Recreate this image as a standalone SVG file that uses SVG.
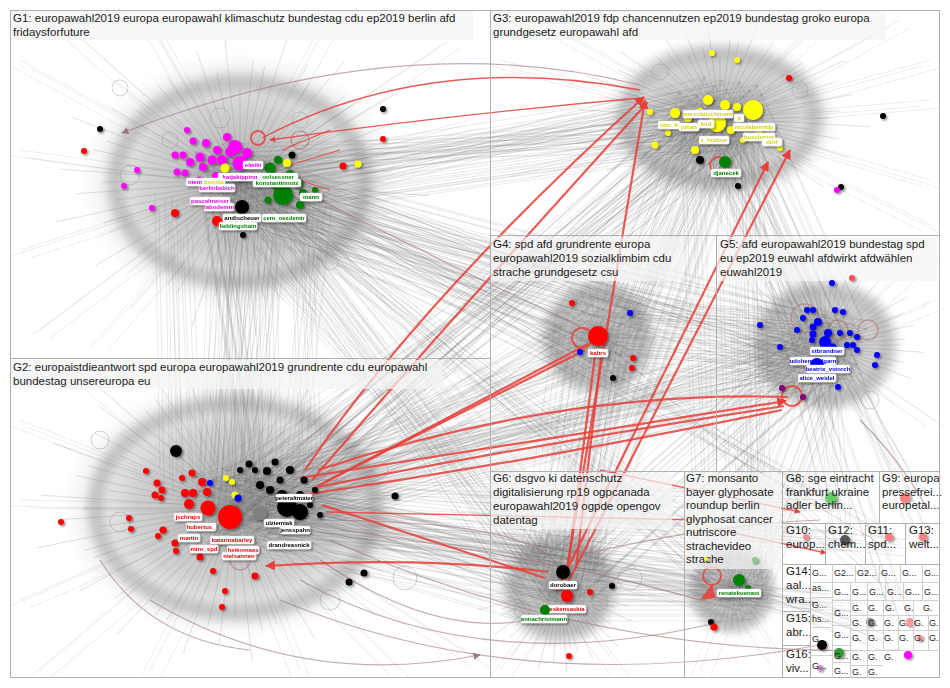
<svg xmlns="http://www.w3.org/2000/svg" xmlns:xlink="http://www.w3.org/1999/xlink" width="950" height="688" viewBox="0 0 950 688">
<style>
.fr{fill:none;stroke:#b0b0b0;stroke-width:1}
.sg{fill:none;stroke:#d0d0d0;stroke-width:1}
.h{font-family:"Liberation Sans",Arial,sans-serif;font-size:11.5px;fill:#1a1a1a}
.hs{font-family:"Liberation Sans",Arial,sans-serif;font-size:9px;fill:#1a1a1a}
.hb{fill:#f4f4f4;fill-opacity:.72}
.ring{fill:none;stroke:#707070;stroke-opacity:.32;stroke-width:16}
.r{fill:none;stroke:#e8403a;stroke-width:2.2;stroke-opacity:.85}
.t{stroke-width:1.3}
.b{fill:none;stroke:#a07878;stroke-width:1.2;stroke-opacity:.6}
.rl{fill:none;stroke:#e8403a;stroke-width:2;stroke-opacity:.8}
.bl{fill:none;stroke:#b07070;stroke-width:1.5;stroke-opacity:.55}
.gl{fill:none;stroke:#999;stroke-width:1;stroke-opacity:.45}
.lb rect{fill:#fff;stroke:#d8d8d8;stroke-width:.5}
.lb text{font-family:"Liberation Sans",Arial,sans-serif;font-size:6px;font-weight:bold;text-anchor:middle}
.m{fill:#ff00ff}.y{fill:#ffff00}.g{fill:#008000}.k{fill:#000}.rd{fill:#ff0000}.bu{fill:#0000ff}.pu{fill:#800080}
.tm{fill:#e000e0}.ty{fill:#d4d400}.tg{fill:#008000}.tk{fill:#000}.tr{fill:#e00000}.tb{fill:#0000ee}
</style>
<defs>
<radialGradient id="halo"><stop offset="0" stop-color="#707070" stop-opacity=".6"/><stop offset=".6" stop-color="#8a8a8a" stop-opacity=".38"/><stop offset="1" stop-color="#aaa" stop-opacity="0"/></radialGradient>
<filter id="sh" x="-30%" y="-30%" width="160%" height="160%"><feDropShadow dx="1.5" dy="1.5" stdDeviation="1.2" flood-color="#000" flood-opacity=".45"/></filter>
<filter id="blur" x="-20%" y="-20%" width="140%" height="140%"><feGaussianBlur stdDeviation="5"/></filter>
<marker id="ar" viewBox="0 0 10 10" refX="9" refY="5" markerWidth="4.5" markerHeight="4.5" orient="auto"><path d="M0 0L10 5L0 10z" fill="#e8403a"/></marker>
<marker id="ab" viewBox="0 0 10 10" refX="9" refY="5" markerWidth="6" markerHeight="6" orient="auto"><path d="M0 0L10 5L0 10z" fill="#a07878"/></marker>
<path id="fan" fill="none" stroke="#707070" stroke-opacity=".3" stroke-width=".7" vector-effect="non-scaling-stroke" d="M0 0L100 0M0 0L81 14M0 0L89 32M0 0L65 38M0 0L75 63M0 0L55 65M0 0L46 80M0 0L27 73M0 0L17 98M0 0L0 88M0 0L-17 95M0 0L-27 75M0 0L-50 86M0 0L-54 64M0 0L-71 60M0 0L-66 38M0 0L-94 34M0 0L-85 15M0 0L-95 0M0 0L-79 -14M0 0L-92 -34M0 0L-72 -42M0 0L-72 -60M0 0L-49 -59M0 0L-50 -87M0 0L-30 -82M0 0L-16 -91M0 0L0 -79M0 0L17 -96M0 0L29 -79M0 0L48 -82M0 0L50 -60M0 0L77 -64M0 0L74 -43M0 0L86 -31M0 0L79 -14"/>
<path id="gw" fill="none" stroke="#666" stroke-opacity=".2" stroke-width=".7" d="M205 160L260 515M220 198L210 490M232 152L245 530M246 184L225 510M262 168L270 480M274 202L235 475M212 212L265 525M252 208L215 535M278 176L250 495M236 172L205 517M180 230L190 470M300 220L310 470M320 200L290 480M165 200L170 480M205 160L740 125M220 198L690 100M232 152L725 140M246 184L705 120M262 168L750 90M274 202L715 85M212 212L745 135M252 208L695 145M278 176L730 105M236 172L685 127M205 160L617 345M220 198L567 320M232 152L602 360M246 184L582 340M262 168L627 310M274 202L592 305M212 212L622 355M252 208L572 365M205 160L845 360M220 198L795 335M232 152L830 375M246 184L810 355M262 168L855 325M274 202L820 320M212 212L850 370M252 208L800 380M205 160L580 595M220 198L530 570M232 152L565 610M246 184L545 590M262 168L590 560M274 202L555 555M212 212L585 605M252 208L535 615M205 160L755 595M246 184L720 590M274 202L730 555M232 152L740 610M205 485L740 125M220 523L690 100M232 477L725 140M246 509L705 120M262 493L750 90M274 527L715 85M212 537L745 135M252 533L695 145M278 501L730 105M236 497L685 127M205 485L617 345M220 523L567 320M232 477L602 360M246 509L582 340M262 493L627 310M274 527L592 305M212 537L622 355M252 533L572 365M205 485L845 360M220 523L795 335M232 477L830 375M246 509L810 355M262 493L855 325M274 527L820 320M212 537L850 370M252 533L800 380M278 501L835 345M236 497L790 362M205 485L580 595M220 523L530 570M232 477L565 610M246 509L545 590M262 493L590 560M274 527L555 555M212 537L585 605M252 533L535 615M205 485L755 595M220 523L705 570M246 509L720 590M274 527L730 555M232 477L740 610M262 493L760 575M740 125L617 345M690 100L567 320M725 140L602 360M705 120L582 340M750 90L627 310M715 85L592 305M740 125L845 360M690 100L795 335M725 140L830 375M705 120L810 355M750 90L855 325M715 85L820 320M745 135L850 370M695 145L800 380M740 125L580 595M690 100L530 570M725 140L565 610M705 120L545 590M750 90L590 560M715 85L555 555M740 125L755 595M690 100L705 570M725 140L740 610M750 90L760 575M617 345L845 360M567 320L795 335M602 360L830 375M582 340L810 355M627 310L855 325M592 305L820 320M617 345L580 595M567 320L530 570M602 360L565 610M582 340L545 590M627 310L590 560M845 360L580 595M795 335L530 570M830 375L565 610M810 355L545 590M855 325L590 560M820 320L555 555M845 360L755 595M795 335L705 570M830 375L740 610M810 355L720 590M580 595L755 595M530 570L705 570M565 610L740 610M545 590L720 590M205 485L830 500M246 509L850 540M274 527L820 600M232 477L900 545M262 493L860 620M246 184L830 500M262 168L890 540M740 125L830 500M705 120L910 490M825 350L840 540M810 355L900 620M845 360L920 540M560 585L850 600M735 585L880 640M597 335L900 600"/>
<path id="per" fill="none" stroke="#707070" stroke-opacity=".18" stroke-width=".7" d="M240 180L20 60M240 180L60 20M240 180L150 20M240 180L330 20M240 180L450 40M240 180L470 120M240 180L20 250M240 180L40 330M240 180L470 250M240 180L20 150M240 180L100 340M240 180L380 340M720 118L930 100M720 118L930 60M720 118L900 20M720 118L560 30M720 118L520 170M720 118L930 180M720 118L640 230M720 118L820 20M720 118L930 225M720 118L500 60M235 505L20 420M235 505L20 600M235 505L40 670M235 505L150 670M235 505L300 670M235 505L480 660M235 505L470 420M235 505L20 500M235 505L400 670M235 505L90 380M235 505L380 380M825 345L935 300M825 345L935 420M825 345L900 460M825 345L760 250M825 345L930 250M560 588L500 670M560 588L620 670M560 588L660 480M560 588L500 500M732 590L700 670M732 590L780 660"/>
</defs>
<rect width="950" height="688" fill="#fff"/>
<g id="halos">
<ellipse cx="240" cy="182" rx="160" ry="130" fill="url(#halo)"/>
<ellipse cx="235" cy="508" rx="175" ry="130" fill="url(#halo)"/>
<ellipse cx="720" cy="118" rx="120" ry="84" fill="url(#halo)"/>
<ellipse cx="598" cy="338" rx="64" ry="62" fill="url(#halo)"/>
<ellipse cx="825" cy="345" rx="80" ry="70" fill="url(#halo)"/>
<ellipse cx="560" cy="588" rx="64" ry="62" fill="url(#halo)"/>
<ellipse cx="732" cy="590" rx="48" ry="48" fill="url(#halo)"/>
<g filter="url(#blur)">
<ellipse class="ring" cx="240" cy="182" rx="125" ry="100"/>
<ellipse class="ring" cx="235" cy="508" rx="140" ry="105"/>
<ellipse class="ring" cx="720" cy="118" rx="95" ry="64"/>
<ellipse class="ring" cx="598" cy="338" rx="46" ry="46"/>
<ellipse class="ring" cx="825" cy="345" rx="62" ry="55"/>
<ellipse class="ring" cx="560" cy="588" rx="46" ry="44"/>
<ellipse class="ring" cx="732" cy="590" rx="34" ry="34"/>
</g>
<use href="#fan" transform="translate(240 182) scale(1.45 1.2)"/>
<use href="#fan" transform="translate(240 182) scale(1.9 1.55) rotate(5)"/>
<use href="#fan" transform="translate(235 508) scale(1.6 1.25)"/>
<use href="#fan" transform="translate(235 508) scale(2.05 1.55) rotate(5)"/>
<use href="#fan" transform="translate(720 118) scale(1.1 .78)"/>
<use href="#fan" transform="translate(720 118) scale(1.5 1) rotate(5)"/>
<use href="#fan" transform="translate(598 338) scale(.58)"/>
<use href="#fan" transform="translate(825 345) scale(.75 .65)"/>
<use href="#fan" transform="translate(825 345) scale(1 .85) rotate(5)"/>
<use href="#fan" transform="translate(560 588) scale(.62)"/>
<use href="#fan" transform="translate(560 588) scale(.85) rotate(5)"/>
<use href="#fan" transform="translate(732 590) scale(.45)"/>
</g>
<g id="connectors">
<use href="#gw"/>
<use href="#gw" transform="translate(7 -5)"/>
<use href="#gw" transform="translate(-6 6)"/>
<use href="#gw" transform="translate(12 4)"/>
<use href="#gw" transform="translate(-10 -8)"/>
<use href="#gw" transform="translate(3 11)"/>
<use href="#per"/>
<use href="#per" transform="translate(10 8)"/>
<use href="#per" transform="translate(-9 6)"/>
<circle class="gl" cx="220" cy="118" r="10"/><circle class="gl" cx="170" cy="140" r="8"/><circle class="gl" cx="130" cy="175" r="10"/><circle class="gl" cx="300" cy="120" r="8"/><circle class="gl" cx="330" cy="262" r="8"/><circle class="gl" cx="100" cy="440" r="9"/><circle class="gl" cx="120" cy="522" r="10"/><circle class="gl" cx="380" cy="470" r="8"/><circle class="gl" cx="330" cy="600" r="10"/><circle class="gl" cx="640" cy="120" r="8"/><circle class="gl" cx="800" cy="90" r="8"/><circle class="gl" cx="660" cy="72" r="8"/><circle class="gl" cx="870" cy="400" r="9"/><circle class="gl" cx="600" cy="602" r="8"/><circle class="gl" cx="522" cy="610" r="8"/><circle class="gl" cx="748" cy="612" r="8"/><circle class="gl" cx="630" cy="578" r="12"/><circle class="gl" cx="405" cy="578" r="12"/><circle class="gl" cx="120" cy="88" r="8"/>
<path class="b" d="M640 85Q400 25 122 133" marker-end="url(#ab)"/>
<path class="b" d="M320 560Q450 650 560 612"/>
<path class="b" d="M300 580Q480 680 720 622"/>
<path class="b" d="M280 600Q520 700 820 645"/>
<path class="b" d="M150 600Q300 690 480 655" marker-end="url(#ab)"/>
<path class="b" d="M560 560Q700 525 820 520"/>
<path class="b" d="M320 200Q500 290 588 330"/>
<path class="b" d="M860 420Q900 460 925 505"/>
<path class="b" d="M330 540Q600 660 900 650"/>
<path class="b" d="M100 560Q150 640 250 650"/>
<path class="b" d="M340 530Q560 560 700 600"/>
<path class="b" d="M310 520Q540 520 560 570"/>
<circle class="bl" cx="805" cy="318" r="14"/><circle class="bl" cx="838" cy="330" r="10"/><circle class="bl" cx="868" cy="330" r="10"/><circle class="bl" cx="240" cy="560" r="10"/><circle class="bl" cx="300" cy="140" r="9"/>
<path class="r" d="M300 478L786 401" marker-end="url(#ar)"/>
<path class="r" d="M312 488Q560 440 784 406"/>
<path class="r" d="M318 470Q560 390 788 397"/>
<path class="r" d="M296 496Q540 460 782 410"/>
<path class="r" d="M305 470Q420 300 644 97" marker-end="url(#ar)"/>
<path class="r" d="M312 480Q450 320 648 102"/>
<path class="r" d="M318 486L588 344"/>
<path class="r" d="M325 482L585 350"/>
<path class="r t" d="M262 138Q430 50 640 90"/>
<path class="r" d="M556 592L768 162" marker-end="url(#ar)"/>
<path class="r" d="M562 594L790 150" marker-end="url(#ar)"/>
<path class="r" d="M566 575L645 100" marker-end="url(#ar)"/>
<path class="r" d="M596 348L568 566"/>
<path class="r" d="M602 348L576 568"/>
<path class="r" d="M548 572Q420 556 266 566" marker-end="url(#ar)"/>
<path class="r" d="M322 505L545 578"/>
<path class="r t" d="M640 98Q450 115 270 140" marker-end="url(#ar)"/>
<path class="r t" d="M700 520L326 512"/>
<path class="r t" d="M600 470L800 512" marker-end="url(#ar)"/>
<path class="r t" d="M720 530L826 553" marker-end="url(#ar)"/>
<path class="r t" d="M340 150L290 165M330 190L298 180M330 130L282 150"/>
<circle class="rl" cx="582" cy="338" r="10"/><circle class="rl" cx="792" cy="396" r="10"/><circle class="rl" cx="718" cy="165" r="8"/><circle class="rl" cx="258" cy="138" r="7"/><circle class="rl" cx="712" cy="576" r="9"/>
<path d="M700 600L712 584L716 598z" fill="#e8403a" fill-opacity=".85"/>
</g>
<g id="G1">
<rect class="hb" x="11" y="11" width="462" height="29"/>
<text class="h" x="13" y="22">G1: europawahl2019 europa europawahl klimaschutz bundestag cdu ep2019 berlin afd</text>
<text class="h" x="13" y="36">fridaysforfuture</text>
<g filter="url(#sh)">
<circle class="m" cx="175" cy="155" r="3.5"/><circle class="m" cx="183" cy="155" r="3.5"/><circle class="m" cx="177" cy="172" r="3.5"/><circle class="m" cx="185" cy="173" r="3.5"/><circle class="m" cx="190" cy="162" r="4"/><circle class="m" cx="200" cy="157" r="4.5"/><circle class="m" cx="203" cy="167" r="4"/><circle class="m" cx="212" cy="160" r="4.5"/><circle class="m" cx="217" cy="150" r="4"/><circle class="m" cx="227" cy="137" r="4"/><circle class="m" cx="187" cy="130" r="3"/><circle class="m" cx="152" cy="208" r="3"/><circle class="m" cx="124" cy="186" r="3"/><circle class="m" cx="137" cy="170" r="3"/><circle class="m" cx="193" cy="141" r="3.5"/><circle class="m" cx="206" cy="143" r="4"/><circle class="m" cx="235" cy="147" r="7"/><circle class="m" cx="247" cy="153" r="5"/><circle class="m" cx="222" cy="160" r="5"/><circle class="m" cx="230" cy="152" r="5"/><circle class="m" cx="216" cy="176" r="4"/><circle class="m" cx="199" cy="180" r="3.5"/><circle class="m" cx="240" cy="163" r="7.5"/>
<circle class="y" cx="225" cy="168" r="4.5"/><circle class="y" cx="287" cy="163" r="4"/><circle class="y" cx="358" cy="164" r="3.5"/>
<circle class="g" cx="270" cy="168" r="5.5"/><circle class="g" cx="278" cy="160" r="4"/><circle class="g" cx="298" cy="183" r="5"/><circle class="g" cx="303" cy="193" r="4"/><circle class="g" cx="315" cy="190" r="3"/><circle class="g" cx="290" cy="175" r="5"/><circle class="g" cx="275" cy="185" r="4"/><circle class="g" cx="268" cy="200" r="3.5"/><circle class="g" cx="300" cy="205" r="4"/><circle class="g" cx="283" cy="195" r="10"/>
<circle class="k" cx="292" cy="155" r="3.5"/><circle class="k" cx="243" cy="235" r="3"/><circle class="k" cx="100" cy="129" r="3"/><circle class="k" cx="383" cy="109" r="3"/><circle class="k" cx="242" cy="207" r="7"/>
<circle class="rd" cx="343" cy="166" r="3.5"/><circle class="rd" cx="175" cy="213" r="4"/><circle class="rd" cx="217" cy="221" r="5"/><circle class="rd" cx="383" cy="139" r="3"/><circle class="rd" cx="84" cy="151" r="3"/>
</g>
<g class="lb" filter="url(#sh)">
<g id="n-elwiki"><rect x="243" y="161" width="20" height="8" rx="1.5"/><text class="tm" x="253" y="167">elwiki</text></g>
<g id="n-koessner"><rect x="258" y="173" width="40" height="8" rx="1.5"/><text class="tg" x="278" y="179">oolsessner</text></g>
<g id="n-katjakipping"><rect x="218" y="173" width="44" height="8" rx="1.5"/><text class="tm" x="240" y="179">katjakipping</text></g>
<g id="n-konstantinnotz"><rect x="253" y="179" width="48" height="8" rx="1.5"/><text class="tg" x="277" y="185">konstantinnotz</text></g>
<g id="n-niem"><rect x="186" y="178" width="18" height="8" rx="1.5"/><text class="tm" x="195" y="184">niem</text></g>
<g id="n-konsta"><rect x="203" y="178" width="22" height="8" rx="1.5"/><text class="ty" x="214" y="184">konsta</text></g>
<g id="n-berlin"><rect x="199" y="184" width="36" height="8" rx="1.5"/><text class="tm" x="217" y="190">berlinliebich</text></g>
<g id="n-mann"><rect x="300" y="193" width="22" height="8" rx="1.5"/><text class="tg" x="311" y="199">mann</text></g>
<g id="n-pascalmeiser"><rect x="190" y="197" width="40" height="8" rx="1.5"/><text class="tm" x="210" y="203">pascalmeiser</text></g>
<g id="n-labo"><rect x="204" y="203" width="30" height="8" rx="1.5"/><text class="tm" x="219" y="209">labodemm</text></g>
<g id="n-andischeuer"><rect x="223" y="214" width="38" height="8" rx="1.5"/><text class="tk" x="242" y="220">andischeuer</text></g>
<g id="n-cem"><rect x="262" y="214" width="44" height="8" rx="1.5"/><text class="tg" x="284" y="220">cem_oezdemir</text></g>
<g id="n-lieb"><rect x="219" y="222" width="38" height="8" rx="1.5"/><text class="tg" x="238" y="228">lieblingshain</text></g>
</g>
</g>
<g id="G3">
<rect class="hb" x="491" y="11" width="394" height="29"/>
<text class="h" x="493" y="22">G3: europawahl2019 fdp chancennutzen ep2019 bundestag groko europa</text>
<text class="h" x="493" y="36">grundgesetz europawahl afd</text>
<g filter="url(#sh)">
<circle class="y" cx="708" cy="100" r="5"/><circle class="y" cx="675" cy="113" r="5"/><circle class="y" cx="650" cy="112" r="3"/><circle class="y" cx="655" cy="145" r="3.5"/><circle class="y" cx="695" cy="150" r="4"/><circle class="y" cx="725" cy="105" r="5"/><circle class="y" cx="737" cy="107" r="4"/><circle class="y" cx="780" cy="148" r="3"/><circle class="y" cx="743" cy="140" r="3"/><circle class="y" cx="712" cy="53" r="3"/><circle class="y" cx="737" cy="60" r="3"/><circle class="y" cx="662" cy="125" r="3"/><circle class="y" cx="668" cy="133" r="3"/><circle class="y" cx="688" cy="118" r="4"/><circle class="y" cx="700" cy="112" r="4"/><circle class="y" cx="731" cy="130" r="4"/><circle class="y" cx="760" cy="130" r="3"/><circle class="y" cx="753" cy="110" r="10"/><circle class="y" cx="717" cy="123" r="9"/>
<circle class="k" cx="700" cy="160" r="4"/><circle class="k" cx="883" cy="116" r="3"/><circle class="k" cx="841" cy="187" r="3"/><circle class="k" cx="738" cy="186" r="3"/>
<circle class="rd" cx="789" cy="78" r="3"/><circle class="m" cx="837" cy="190" r="3"/>
</g>
<g class="lb" filter="url(#sh)">
<g id="n-marcobuschmann"><rect x="683" y="110" width="50" height="8" rx="1.5"/><text class="ty" x="708" y="116">marcobuschmann</text></g>
<g id="n-p"><rect x="734" y="114" width="10" height="8" rx="1.5"/><text class="ty" x="739" y="120">p</text></g>
<g id="n-otto"><rect x="658" y="121" width="22" height="8" rx="1.5"/><text class="ty" x="669" y="127">otto_fr</text></g>
<g id="n-johan"><rect x="679" y="123" width="20" height="8" rx="1.5"/><text class="ty" x="689" y="129">johan</text></g>
<g id="n-lind"><rect x="698" y="120" width="16" height="8" rx="1.5"/><text class="ty" x="706" y="126">lind</text></g>
<g id="n-nicolabeerfdp"><rect x="733" y="123" width="42" height="8" rx="1.5"/><text class="ty" x="754" y="129">nicolabeerfdp</text></g>
<g id="n-c_lindner"><rect x="699" y="136" width="30" height="8" rx="1.5"/><text class="ty" x="714" y="142">c_lindner</text></g>
<g id="n-buschauer"><rect x="743" y="133" width="32" height="8" rx="1.5"/><text class="ty" x="759" y="139">buschauer</text></g>
<g id="n-dorf"><rect x="762" y="138" width="20" height="8" rx="1.5"/><text class="ty" x="772" y="144">dorf</text></g>
<g id="n-djanecek"><circle class="g" cx="725" cy="162" r="6"/><rect x="711" y="169" width="30" height="8" rx="1.5"/><text class="tg" x="726" y="175">djanecek</text></g>
</g>
</g>
<g id="G4">
<rect class="hb" x="491" y="237" width="193" height="44"/>
<text class="h" x="493" y="248">G4: spd afd grundrente europa</text>
<text class="h" x="493" y="262">europawahl2019 sozialklimbim cdu</text>
<text class="h" x="493" y="276">strache grundgesetz csu</text>
<g filter="url(#sh)">
<circle class="bu" cx="630" cy="313" r="3"/><circle class="bu" cx="580" cy="352" r="3"/><circle class="rd" cx="572" cy="303" r="3"/><circle class="rd" cx="633" cy="358" r="3"/><circle class="rd" cx="632" cy="368" r="3"/><circle class="k" cx="613" cy="378" r="3"/>
</g>
<g class="lb" filter="url(#sh)" id="n-kahrs"><circle class="rd" cx="598" cy="336" r="10"/><rect x="588" y="349" width="20" height="8" rx="1.5"/><text class="tr" x="598" y="355">kahrs</text></g>
</g>
<g id="G5">
<rect class="hb" x="717" y="237" width="220" height="44"/>
<text class="h" x="720" y="248">G5: afd europawahl2019 bundestag spd</text>
<text class="h" x="720" y="262">eu ep2019 euwahl afdwirkt afdwählen</text>
<text class="h" x="720" y="276">euwahl2019</text>
<g filter="url(#sh)">
<circle class="bu" cx="832" cy="283" r="3"/><circle class="bu" cx="807" cy="310" r="3"/><circle class="bu" cx="813" cy="310" r="3"/><circle class="bu" cx="835" cy="310" r="3"/><circle class="bu" cx="843" cy="312" r="3"/><circle class="bu" cx="803" cy="318" r="3"/><circle class="bu" cx="818" cy="322" r="4"/><circle class="bu" cx="813" cy="327" r="3.5"/><circle class="bu" cx="797" cy="330" r="3"/><circle class="bu" cx="813" cy="334" r="3.5"/><circle class="bu" cx="828" cy="333" r="4"/><circle class="bu" cx="840" cy="333" r="3"/><circle class="bu" cx="850" cy="333" r="3"/><circle class="bu" cx="857" cy="337" r="3"/><circle class="bu" cx="812" cy="340" r="3"/><circle class="bu" cx="833" cy="347" r="3.5"/><circle class="bu" cx="847" cy="345" r="3"/><circle class="bu" cx="853" cy="345" r="3"/><circle class="bu" cx="857" cy="350" r="3"/><circle class="bu" cx="877" cy="355" r="3"/><circle class="bu" cx="875" cy="365" r="3"/><circle class="bu" cx="838" cy="387" r="3"/><circle class="bu" cx="760" cy="325" r="3"/><circle class="bu" cx="780" cy="347" r="3"/><circle class="bu" cx="825" cy="342" r="6"/>
<circle class="pu" cx="782" cy="388" r="3"/><circle class="pu" cx="803" cy="397" r="3"/><circle cx="852" cy="278" r="3" fill="#ff5050"/>
</g>
<g class="lb" filter="url(#sh)">
<g id="n-stbrandner"><rect x="810" y="347" width="34" height="8" rx="1.5"/><text class="tb" x="827" y="353">stbrandner</text></g>
<g id="n-udohemmelgarn"><rect x="790" y="357" width="46" height="8" rx="1.5"/><text class="tb" x="813" y="363">udohemmelgarn</text></g>
<g id="n-storch"><circle class="bu" cx="817" cy="365" r="7"/><rect x="806" y="365" width="44" height="8" rx="1.5"/><text class="tb" x="828" y="371">beatrix_vstorch</text></g>
<g id="n-alice_weidel"><rect x="798" y="374" width="38" height="8" rx="1.5"/><text class="tb" x="817" y="380">alice_weidel</text></g>
</g>
</g>
<g id="G2">
<rect class="hb" x="11" y="360" width="432" height="29"/>
<text class="h" x="13" y="371">G2: europaistdieantwort spd europa europawahl2019 grundrente cdu europawahl</text>
<text class="h" x="13" y="385">bundestag unsereuropa eu</text>
<g filter="url(#sh)">
<circle class="rd" cx="157" cy="483" r="3.5"/><circle class="rd" cx="162" cy="490" r="3.5"/><circle class="rd" cx="155" cy="495" r="3.5"/><circle class="rd" cx="192" cy="473" r="3.5"/><circle class="rd" cx="202" cy="482" r="4"/><circle class="rd" cx="185" cy="493" r="4"/><circle class="rd" cx="193" cy="493" r="4"/><circle class="rd" cx="207" cy="492" r="4"/><circle class="rd" cx="189" cy="504" r="5"/><circle class="rd" cx="163" cy="530" r="3.5"/><circle class="rd" cx="175" cy="543" r="3.5"/><circle class="rd" cx="200" cy="557" r="3.5"/><circle class="rd" cx="61" cy="522" r="3"/><circle class="rd" cx="146" cy="471" r="3"/><circle class="rd" cx="161" cy="498" r="3"/><circle class="rd" cx="129" cy="518" r="3"/><circle class="rd" cx="131" cy="529" r="3"/><circle class="rd" cx="158" cy="536" r="3"/><circle class="rd" cx="176" cy="551" r="3"/><circle class="rd" cx="213" cy="571" r="3"/><circle class="rd" cx="225" cy="591" r="3"/><circle class="rd" cx="222" cy="607" r="3"/><circle class="rd" cx="255" cy="576" r="3.5"/><circle class="rd" cx="182" cy="478" r="3"/><circle class="rd" cx="208" cy="508" r="7.5"/><circle class="rd" cx="230" cy="517" r="12"/>
<circle class="k" cx="176" cy="451" r="6"/><circle class="k" cx="249" cy="464" r="3.5"/><circle class="k" cx="267" cy="471" r="4"/><circle class="k" cx="290" cy="470" r="4"/><circle class="k" cx="304" cy="480" r="3.5"/><circle class="k" cx="260" cy="485" r="4"/><circle class="k" cx="270" cy="490" r="4"/><circle class="k" cx="280" cy="480" r="3.5"/><circle class="k" cx="300" cy="495" r="4"/><circle class="k" cx="310" cy="505" r="3"/><circle class="k" cx="255" cy="470" r="3"/><circle class="k" cx="275" cy="462" r="3.5"/><circle class="k" cx="240" cy="470" r="3"/><circle class="k" cx="364" cy="573" r="3.5"/><circle class="k" cx="349" cy="582" r="3.5"/><circle class="k" cx="395" cy="496" r="3.5"/><circle class="k" cx="320" cy="515" r="3"/><circle class="k" cx="315" cy="490" r="3"/><circle class="k" cx="282" cy="496" r="6"/>
<circle cx="260" cy="513" r="7" fill="#808080"/><circle class="k" cx="287" cy="507" r="10"/><circle class="k" cx="300" cy="512" r="8"/>
<circle class="y" cx="226" cy="478" r="3"/><circle class="y" cx="232" cy="482" r="3"/><circle class="y" cx="235" cy="495" r="3.5"/><circle class="bu" cx="210" cy="483" r="3"/><circle class="bu" cx="238" cy="498" r="3.5"/>
</g>
<g class="lb" filter="url(#sh)">
<g id="n-oossoar"><rect x="276" y="494" width="36" height="8" rx="1.5"/><text class="tk" x="294" y="500">peteraltmaier</text></g>
<g id="n-jschraps"><rect x="174" y="513" width="28" height="8" rx="1.5"/><text class="tr" x="188" y="519">jschraps</text></g>
<g id="n-hubertus"><rect x="186" y="523" width="30" height="8" rx="1.5"/><text class="tr" x="201" y="529">hubertus_</text></g>
<g id="n-ziemiak"><rect x="264" y="519" width="30" height="8" rx="1.5"/><text class="tk" x="279" y="525">ulziemiak</text></g>
<g id="n-spahn"><rect x="280" y="526" width="30" height="8" rx="1.5"/><text class="tk" x="295" y="532">jensspahn</text></g>
<g id="n-martin"><rect x="178" y="534" width="22" height="8" rx="1.5"/><text class="tr" x="189" y="540">martin</text></g>
<g id="n-katarinabarley"><rect x="210" y="536" width="44" height="8" rx="1.5"/><text class="tr" x="232" y="542">katarinabarley</text></g>
<g id="n-drandreasnick"><rect x="267" y="541" width="44" height="8" rx="1.5"/><text class="tk" x="289" y="547">drandreasnick</text></g>
<g id="n-miro"><rect x="190" y="545" width="28" height="8" rx="1.5"/><text class="tr" x="204" y="551">miro_spd</text></g>
<g id="n-heikomaas"><rect x="227" y="546" width="32" height="8" rx="1.5"/><text class="tr" x="243" y="552">heikomaas</text></g>
<g id="n-nielsannen"><rect x="222" y="552" width="34" height="8" rx="1.5"/><text class="tr" x="239" y="558">nielsannen</text></g>
</g>
</g>
<g id="G6">
<rect class="hb" x="491" y="473" width="181" height="56"/>
<text class="h" x="493" y="482">G6: dsgvo ki datenschutz</text>
<text class="h" x="493" y="496">digitalisierung rp19 ogpcanada</text>
<text class="h" x="493" y="510">europawahl2019 ogpde opengov</text>
<text class="h" x="493" y="524">datentag</text>
<g filter="url(#sh)"><circle class="rd" cx="590" cy="592" r="3"/><circle class="k" cx="612" cy="586" r="3"/><circle class="rd" cx="569" cy="656" r="3"/></g>
<g class="lb" filter="url(#sh)">
<g id="n-dorobaer"><circle class="k" cx="563" cy="572" r="7"/><rect x="549" y="581" width="28" height="8" rx="1.5"/><text class="tk" x="563" y="587">dorobaer</text></g>
<g id="n-eskensaskia"><circle class="rd" cx="567" cy="596" r="6"/><rect x="548" y="605" width="38" height="8" rx="1.5"/><text class="tr" x="567" y="611">eskensaskia</text></g>
<g id="n-annachristmann"><circle class="g" cx="545" cy="610" r="5"/><rect x="521" y="615" width="46" height="8" rx="1.5"/><text class="tg" x="544" y="621">annachristmann</text></g>
</g>
</g>
<g id="G7">
<rect class="hb" x="685" y="473" width="96" height="96"/>
<text class="h" x="686" y="482">G7: monsanto</text>
<text class="h" x="686" y="496">bayer glyphosate</text>
<text class="h" x="686" y="509">roundup berlin</text>
<text class="h" x="686" y="523">glyphosat cancer</text>
<text class="h" x="686" y="536">nutriscore</text>
<text class="h" x="686" y="550">strachevideo</text>
<text class="h" x="686" y="563">strache</text>
<g filter="url(#sh)"><circle class="g" cx="748" cy="588" r="3"/><circle cx="755" cy="560" r="3" fill="#88cc88"/><circle class="k" cx="711" cy="622" r="3"/><circle class="rd" cx="714" cy="627" r="3.5"/><circle class="y" cx="706" cy="559" r="2"/></g>
<g class="lb" filter="url(#sh)" id="n-renatekuenast"><circle class="g" cx="739" cy="580" r="6"/><rect x="717" y="589" width="44" height="8" rx="1.5"/><text class="tg" x="739" y="595">renatekuenast</text></g>
</g>
<g id="small-groups">
<g filter="url(#sh)"><circle cx="831" cy="498" r="6" fill="#66cc66"/><circle cx="905" cy="498" r="5" fill="#ff8080"/><circle cx="806" cy="537" r="3" fill="#ff8888"/><circle cx="845" cy="540" r="5" fill="#555"/><circle cx="889" cy="537" r="4" fill="#ff8080"/><circle cx="923" cy="537" r="4" fill="#ff8080"/><circle cx="870" cy="622" r="4" fill="#888"/><circle cx="910" cy="622" r="4" fill="#ff9999"/><circle cx="920" cy="638" r="3" fill="#ff9999"/><circle cx="822" cy="645" r="5" fill="#000"/><circle cx="908" cy="655" r="4" fill="#ff00ff"/><circle cx="839" cy="653" r="5" fill="#339933"/><circle cx="820" cy="668" r="3" fill="#cc88cc"/></g>
<text class="h" x="786" y="482">G8: sge eintracht</text><text class="h" x="786" y="496">frankfurt ukraine</text><text class="h" x="786" y="509">adler berlin...</text>
<text class="h" x="882" y="482">G9: europa</text><text class="h" x="882" y="496">pressefrei...</text><text class="h" x="882" y="509">europetal...</text>
<text class="h" x="786" y="534">G10:</text><text class="h" x="786" y="548">europ...</text>
<text class="h" x="828" y="534">G12:</text><text class="h" x="828" y="548">chem...</text>
<text class="h" x="868" y="534">G11:</text><text class="h" x="868" y="548">spd...</text>
<text class="h" x="909" y="534">G13:</text><text class="h" x="909" y="548">welt...</text>
<text class="h" x="786" y="575">G14:</text><text class="h" x="786" y="589">aal...</text><text class="h" x="786" y="603">wra...</text>
<text class="h" x="786" y="622">G15:</text><text class="h" x="786" y="636">abr...</text>
<text class="h" x="786" y="658">G16:</text><text class="h" x="786" y="672">viv...</text>
<text class="hs" x="812" y="576">G...</text><text class="hs" x="834" y="576">G2...</text><text class="hs" x="857" y="576">G2...</text><text class="hs" x="881" y="576">G...</text><text class="hs" x="902" y="576">G...</text><text class="hs" x="924" y="576">G...</text>
<text class="hs" x="812" y="591">as...</text><text class="hs" x="812" y="608">G...</text><text class="hs" x="812" y="622">hs...</text><text class="hs" x="812" y="642">G...</text><text class="hs" x="812" y="669">G...</text>
<text class="hs" x="834" y="595">G...</text><text class="hs" x="852" y="595">G...</text><text class="hs" x="869" y="595">G...</text><text class="hs" x="887" y="595">G...</text><text class="hs" x="905" y="595">G...</text><text class="hs" x="924" y="595">G...</text>
<text class="hs" x="834" y="616">G...</text><text class="hs" x="852" y="611">G.</text><text class="hs" x="868" y="611">G.</text><text class="hs" x="885" y="611">G.</text><text class="hs" x="904" y="611">G.</text><text class="hs" x="923" y="611">G.</text>
<text class="hs" x="852" y="626">G.</text><text class="hs" x="868" y="626">G.</text><text class="hs" x="884" y="626">G.</text><text class="hs" x="899" y="626">G.</text><text class="hs" x="914" y="626">G.</text><text class="hs" x="929" y="626">G.</text>
<text class="hs" x="834" y="638">G...</text><text class="hs" x="852" y="641">G.</text><text class="hs" x="868" y="641">G.</text><text class="hs" x="884" y="641">G.</text><text class="hs" x="899" y="641">G.</text><text class="hs" x="914" y="641">G.</text><text class="hs" x="929" y="641">G.</text>
<text class="hs" x="834" y="659">G...</text><text class="hs" x="852" y="660">G.</text><text class="hs" x="868" y="660">G.</text><text class="hs" x="884" y="660">G.</text>
<text class="hs" x="834" y="674">G...</text><text class="hs" x="852" y="675">G.</text><text class="hs" x="868" y="675">G.</text>
</g>
<g id="frames">
<rect class="fr" x="10.5" y="10.5" width="929" height="667"/>
<path class="fr" d="M490.5 10V678M10 358.5H490M490 235.5H940M716.5 235V471M490 471.5H940M684.5 471V678M782.5 471V678M879.5 471V523M782 523.5H940M825.5 523V564M865.5 523V564M905.5 523V564M782 564.5H940M810.5 564V678M782 611.5H810M782 645.5H810"/>
<path class="sg" d="M832.5 564V678M855.5 564V582M879.5 564V582M900.5 564V582M922.5 564V582M810 582.5H940M850.5 582V678M867.5 582V678M885.5 582V600M903.5 582V600M922.5 582V600M832 600.5H940M810 597.5H832M810 627.5H832M883.5 600V650M898.5 615V650M913.5 600V650M928.5 615V650M850 615.5H940M850 630.5H940M850 650.5H940M832 625.5H850M832 645.5H850M832 662.5H850M810 655.5H832M850 665.5H883"/>
</g>
</svg>
